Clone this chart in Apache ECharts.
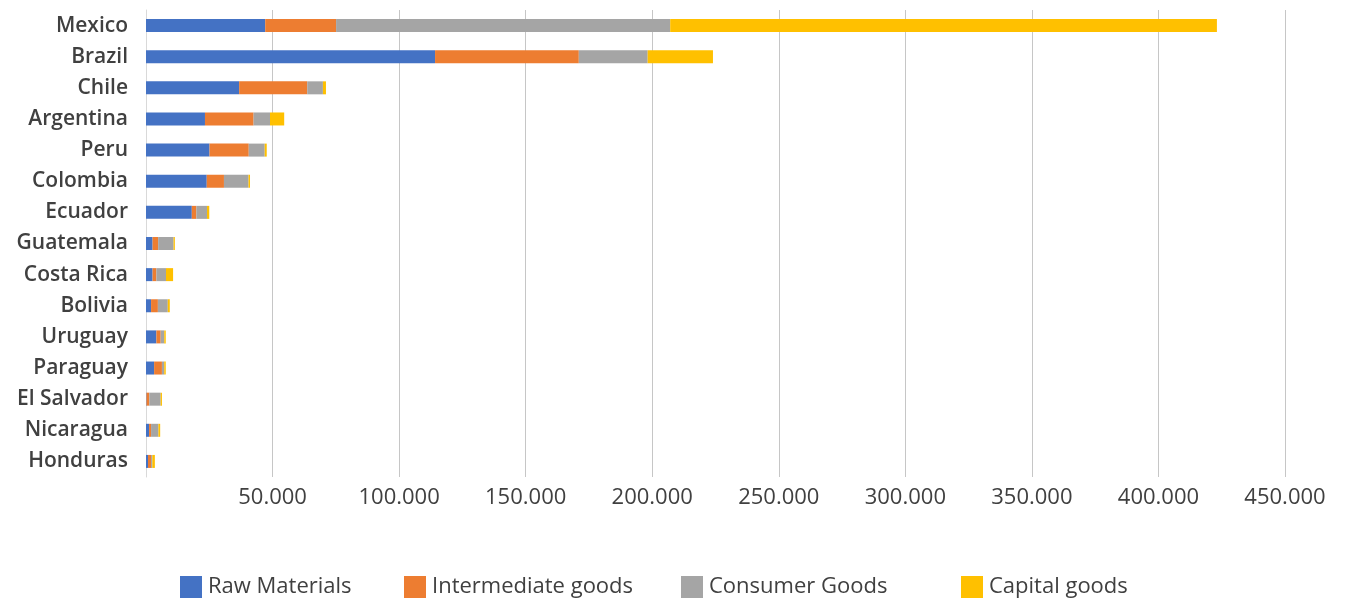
<!DOCTYPE html>
<html>
<head>
<meta charset="utf-8">
<script src="https://cdn.jsdelivr.net/npm/echarts@6/dist/echarts.min.js"></script>
<style>
  html, body { margin: 0; padding: 0; background: #fff; }
  #chart { width: 1353px; height: 605px; }
</style>
</head>
<body>
<div id="chart"></div>
<script>
// countries, top to bottom
const countries = ['Mexico', 'Brazil', 'Chile', 'Argentina', 'Peru', 'Colombia', 'Ecuador',
  'Guatemala', 'Costa Rica', 'Bolivia', 'Uruguay', 'Paraguay', 'El Salvador', 'Nicaragua', 'Honduras'];

// values (stacked segments)
const rawMaterials = [47100, 114200, 36800, 23300, 25100, 24000, 18100, 2600, 2600, 2000, 4100, 3200, 200, 1200, 800];
const intermediateGoods = [28000, 56800, 26900, 19200, 15500, 6800, 1800, 2200, 1500, 2700, 1700, 3100, 1100, 800, 1200];
const consumerGoods = [132000, 27200, 6200, 6500, 6300, 9700, 4200, 6100, 3800, 3900, 1400, 900, 4500, 2900, 500];
const capitalGoods = [216000, 25800, 1200, 5600, 800, 600, 900, 500, 2800, 800, 600, 600, 500, 700, 1000];

const seriesNames = ['Raw Materials', 'Intermediate goods', 'Consumer Goods', 'Capital goods'];
const seriesColors = ['#4472C4', '#ED7D31', '#A5A5A5', '#FFC000'];
const seriesData = [rawMaterials, intermediateGoods, consumerGoods, capitalGoods];

const legendLefts = [180, 404, 681, 961];

const fontFamily = '"Open Sans", "Noto Sans", sans-serif';

const fmt = (v) => {
  if (v === 0) return '';
  return String(v).replace(/\B(?=(\d{3})+(?!\d))/g, '.');
};

const myChart = echarts.init(document.getElementById('chart'));

myChart.setOption({
  animation: false,
  textStyle: { fontFamily },
  grid: {
    left: 146,
    right: 68,
    top: 10,
    bottom: 128,
    containLabel: false,
  },
  legend: seriesNames.map((name, i) => ({
    data: [name],
    left: legendLefts[i],
    top: 576,
    padding: 0,
    itemWidth: 22,
    itemHeight: 22,
    itemGap: 0,
    icon: 'rect',
    textStyle: {
      fontFamily,
      fontSize: 22,
      color: '#404040',
      padding: [0, 0, 0, 1],
    },
  })),
  xAxis: {
    type: 'value',
    min: 0,
    max: 450000,
    interval: 50000,
    axisLine: { show: false },
    axisTick: { show: false },
    splitLine: { show: true, lineStyle: { color: '#c6c6c6', width: 1 } },
    axisLabel: {
      formatter: fmt,
      fontSize: 22,
      color: '#404040',
      margin: 10,
    },
  },
  yAxis: {
    type: 'category',
    data: countries,
    inverse: true,
    axisLine: { show: true, lineStyle: { color: '#d9d9d9' } },
    axisTick: { show: false },
    axisLabel: {
      fontSize: 21,
      fontWeight: 600,
      color: '#404040',
      margin: 18,
    },
  },
  series: seriesNames.map((name, i) => ({
    name,
    type: 'bar',
    stack: 'total',
    barWidth: 13,
    data: seriesData[i],
    itemStyle: { color: seriesColors[i] },
  })),
});
</script>
</body>
</html>
